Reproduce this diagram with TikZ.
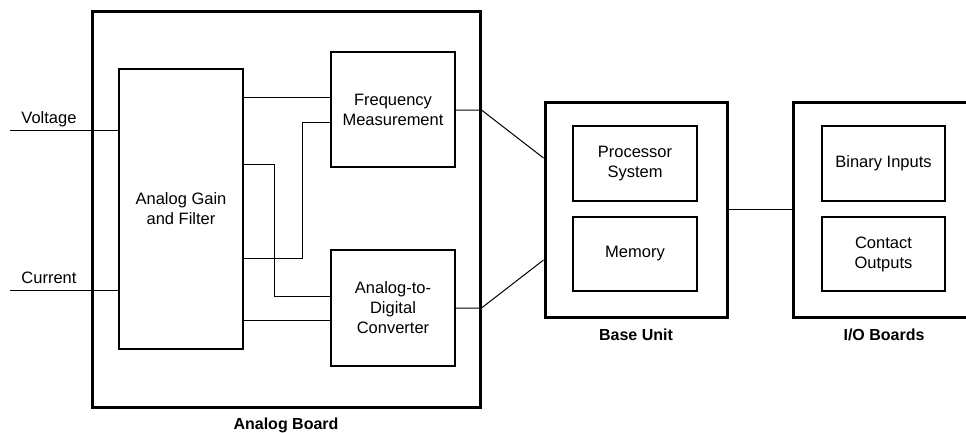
\documentclass[tikz,border=0pt]{standalone}
\usepackage{fontspec}
\setmainfont{Liberation Sans}
\usetikzlibrary{calc}

\begin{document}
\begin{tikzpicture}[x=1pt, y=-1pt,
    blk/.style={draw, line width=1.2pt, inner sep=0pt, align=center, font=\fontsize{16.5}{20}\selectfont},
    unit/.style={draw, line width=3pt, inner sep=0pt},
    title/.style={font=\bfseries\fontsize{16}{19}\selectfont},
    txt/.style={font=\fontsize{16.5}{20}\selectfont},
    sig/.style={line width=1pt}]
      \clip (0,0) rectangle (966,432);

      \node[unit, minimum width=388pt, minimum height=396pt, label={[title, label distance=5.5pt]below:Analog Board}] (aboard) at (286,209) {};
      \node[unit, minimum width=182pt, minimum height=215pt, label={[title, label distance=7pt]below:Base Unit}] (base) at (636,209.5) {};
      \node[unit, minimum width=182pt, minimum height=215pt, label={[title, label distance=7pt]below:I/O Boards}] (io) at (884,209.5) {};

      \node[blk, minimum width=124pt, minimum height=280pt] (gain) at (181,209) {Analog Gain\\and Filter};
      \node[blk, minimum width=124pt, minimum height=115pt] (freq) at (393,109.5) {Frequency\\Measurement};
      \node[blk, minimum width=124pt, minimum height=116pt] (adc) at (393,308) {Analog-to-\\Digital\\Converter};
      \node[blk, minimum width=124pt, minimum height=75pt] (proc) at (635,163.5) {Processor\\System};
      \node[blk, minimum width=124pt, minimum height=74pt] (mem) at (635,254) {Memory};
      \node[blk, minimum width=123pt, minimum height=75pt] (bin) at (883.5,163.5) {Binary Inputs};
      \node[blk, minimum width=123pt, minimum height=74pt] (cont) at (883.5,254) {Contact\\Outputs};

      \coordinate (vin) at (10,130);
      \coordinate (iin) at (10,290);
      \node[txt, anchor=base] (vlab) at (49,123) {Voltage};
      \node[txt, anchor=base] (ilab) at (49,283) {Current};

      \draw[sig] (vin) -- (vin -| gain.west);
      \draw[sig] (iin) -- (iin -| gain.west);

      \draw[sig] (gain.east |- 0,97) -- (freq.west |- 0,97);
      \draw[sig] (gain.east |- 0,258) -- ++(59,0) |- (freq.west |- 0,122);
      \draw[sig] (gain.east |- 0,164) -- ++(31,0) |- (adc.west |- 0,296);
      \draw[sig] (gain.east |- 0,320) -- (adc.west |- 0,320);

      \draw[sig] (freq.east |- 0,110) -- (aboard.east |- 0,110) -- (base.west |- 0,158);
      \draw[sig] (adc.east |- 0,308) -- (aboard.east |- 0,308) -- (base.west |- 0,260);
      \draw[sig] (base.east) -- (io.west);
    \end{tikzpicture}
\end{document}
